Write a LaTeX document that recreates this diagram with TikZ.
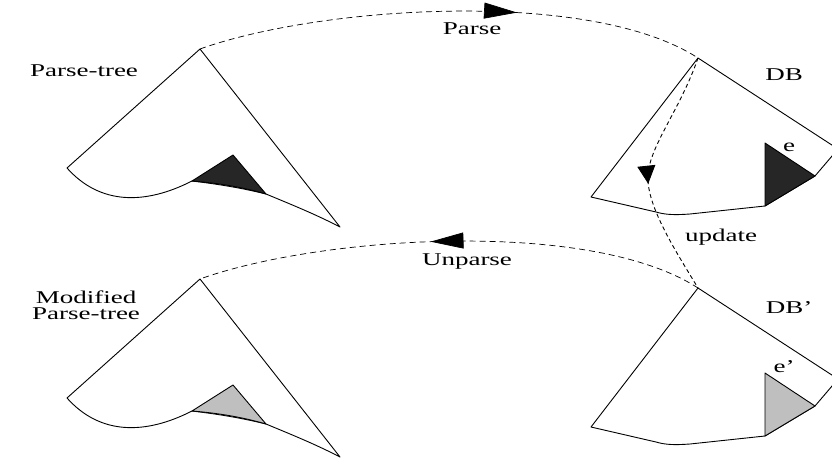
\documentclass[tikz,border=0pt]{standalone}
\usepackage{fontspec}
\setmainfont{Liberation Serif}
\usepackage{graphicx}
\usetikzlibrary{arrows.meta, decorations.markings}
\definecolor{darkfill}{HTML}{262626}
\definecolor{lightfill}{HTML}{BFBFBF}
\tikzset{
  lbl/.style={font=\fontsize{18}{16}\selectfont, inner sep=0pt, anchor=base}
}
\newcommand{\wtext}[1]{\scalebox{1.5}[1]{#1}}

\begin{document}
\begin{tikzpicture}[x=1pt, y=-1pt, line width=0.9pt, line join=round,
    flow/.style={dash pattern=on 6pt off 4pt, line width=0.7pt},
    upd/.style={dash pattern=on 4pt off 3pt, line width=0.9pt},
    bigtip/.style={decoration={markings, mark=at position #1 with {\arrow{Triangle[length=33pt,width=16pt]}}}, postaction=decorate},
    smalltip/.style={decoration={markings, mark=at position #1 with {\arrow{Triangle[length=18pt,width=18pt]}}}, postaction=decorate} ]
    \useasboundingbox (0,0) rectangle (832,460);
    \clip (0,0) rectangle (832,460);
    \coordinate (pt) at (200,49);
    \coordinate (db) at (698,58);
    \coordinate (mpt) at (200,279);
    \coordinate (mdb) at (698,288);
    \draw (pt) -- (67,168) .. controls (100,205) and (145,205) .. (192,181)
      .. controls (217,184) and (242,188) .. (266,194)
      .. controls (290,204) and (315,214) .. (340,227) -- cycle;
    \filldraw[fill=darkfill] (192,181) -- (233,155) -- (266,194) .. controls (242,187) and (217,183) .. (192,181) -- cycle;
    \draw (db) -- (591,197) -- (656,212) .. controls (666,215) and (676,215) .. (690,214)
      -- (765,206) -- (815,176) -- (838,149) -- cycle;
    \filldraw[fill=darkfill] (765,206) -- (765,143) -- (815,176) -- cycle;
    \begin{scope}[shift={(0,230)}]
    \draw (200,49) -- (67,168) .. controls (100,205) and (145,205) .. (192,181)
      .. controls (217,184) and (242,188) .. (266,194)
      .. controls (290,204) and (315,214) .. (340,227) -- cycle;
    \filldraw[fill=lightfill] (192,181) -- (233,155) -- (266,194) .. controls (242,187) and (217,183) .. (192,181) -- cycle;
    \draw (698,58) -- (591,197) -- (656,212) .. controls (666,215) and (676,215) .. (690,214)
      -- (765,206) -- (815,176) -- (838,149) -- cycle;
    \filldraw[fill=lightfill] (765,206) -- (765,143) -- (815,176) -- cycle;
    \end{scope}
    \node[lbl] (ptl) at (84,76) {\wtext{Parse-tree}};
    \node[lbl] (dbl) at (784,80) {\wtext{DB}};
    \node[lbl] (el) at (789,151) {\wtext{e}};
    \node[lbl] (parsel) at (472,35) {\wtext{Parse}};
    \node[lbl] (updl) at (721,241) {\wtext{update}};
    \node[lbl] (unparsel) at (467,265) {\wtext{Unparse}};
    \node[lbl, align=center] (mptl) at (86,319) {\wtext{Modified}\\\wtext{Parse-tree}};
    \node[lbl] (mdbl) at (789,313) {\wtext{DB'}};
    \node[lbl] (mel) at (784,372) {\wtext{e'}};
    \draw[flow, bigtip=0.63] (pt) .. controls (320,6) and (590,-12) .. (db);
    \draw[flow, bigtip=0.54] (mdb) .. controls (590,218) and (320,236) .. (mpt);
    \draw[upd, smalltip=0.54] (db) .. controls (680,110) and (650,145) .. (648,175)
      .. controls (646,205) and (675,250) .. (mdb);
\end{tikzpicture}
\end{document}
